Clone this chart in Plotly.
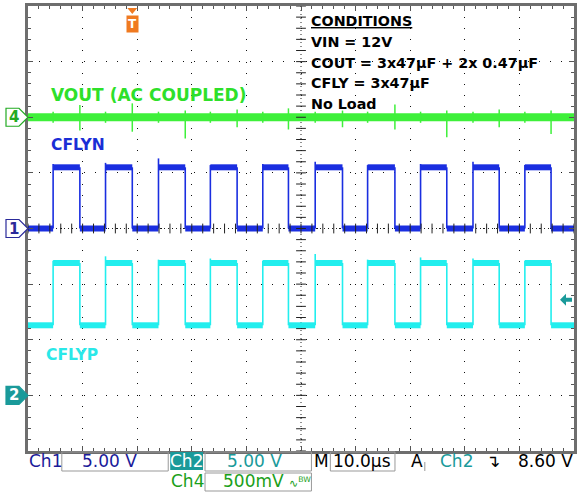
import numpy as np
import plotly.graph_objects as go

W, H = 579, 496
PL, PR, PT, PB = 28, 577, 6, 451  # plot box in screen pixels

# switching edges, µs from left edge of screen (10 µs/div)
rise_us = [4.6, 14.2, 23.9, 33.4, 43.0, 52.6, 62.2, 71.9, 81.5, 91.0]
fall_us = [9.5, 19.1, 28.8, 38.3, 47.7, 57.6, 67.2, 76.7, 86.3, 95.8]

# plateau levels, volts
cflyn_low, cflyn_high = 0.0, 5.5
cflyp_low, cflyp_high = 6.3, 11.9

# overshoot on rising edges, volts
cflyn_ovs = [0.3, 0.4, 0.8, 0.2, 0.3, 0.5, 0.2, 0.3, 0.5, 0.2]
cflyp_ovs = [0.2, 0.6, 0.3, 0.4, 0.2, 0.8, 0.3, 0.5, 0.4, 0.2]

# VOUT spikes at falling edges, mV
vout_up = [110, 125, 60, 70, 80, 60, 115, 60, 70, 60]
vout_dn = [-120, -130, -190, -90, -110, -90, -110, -180, -90, -150]
vout_band_mv = 36

# scope settings
ch1_pos, ch2_pos, ch4_pos = 0.0, -3.0, 2.0   # divisions
ch1_scale, ch2_scale, ch4_scale = 5.0, 5.0, 0.5  # V/div
trig_us = 19.1
trig_level = 8.60

conditions = ["<u>CONDITIONS</u>", "VIN = 12V", "COUT = 3x47µF + 2x 0.47µF",
              "CFLY = 3x47µF", "No Load"]

BLUE = "#1a2ee0"
CYAN = "#22eeee"
GREEN = "#3ef03a"
TEAL = "#1a9a9a"


def px(x):
    return (x - PL) / (PR - PL)


def py(y):
    return (PB - y) / (PB - PT)


def square(low, high, ovs, pos, scale):
    lo = pos + low / scale
    hi = pos + high / scale
    px_, py_ = [], []
    starts = [0.0] + fall_us
    ends = rise_us + [100.0]
    for a, b in zip(starts, ends):
        px_ += [a, b, None]
        py_ += [lo, lo, None]
    for a, b in zip(rise_us, fall_us):
        px_ += [a, b, None]
        py_ += [hi, hi, None]
    ex, ey = [], []
    for r, f, o in zip(rise_us, fall_us, ovs):
        ex += [r, r, None, f, f, None]
        ey += [lo, hi + o / scale, None, hi, lo, None]
    return px_, py_, ex, ey


fig = go.Figure()

# VOUT
fig.add_trace(go.Scatter(x=[0, 100], y=[ch4_pos, ch4_pos], mode="lines",
                         line=dict(color=GREEN, width=2 * vout_band_mv / 1000 / ch4_scale * 55.6),
                         hoverinfo="skip"))
sx, sy = [], []
for t, u, d in zip(fall_us, vout_up, vout_dn):
    sx += [t, t, None]
    sy += [ch4_pos + u / 1000 / ch4_scale, ch4_pos + d / 1000 / ch4_scale, None]
for t in rise_us:
    sx += [t, t, None]
    sy += [ch4_pos + 0.1, ch4_pos - 0.1, None]
fig.add_trace(go.Scatter(x=sx, y=sy, mode="lines", line=dict(color=GREEN, width=1.5),
                         hoverinfo="skip"))

for low, high, ovs, pos, scale, col in [
    (cflyp_low, cflyp_high, cflyp_ovs, ch2_pos, ch2_scale, CYAN),
    (cflyn_low, cflyn_high, cflyn_ovs, ch1_pos, ch1_scale, BLUE),
]:
    a, b, c, d = square(low, high, ovs, pos, scale)
    fig.add_trace(go.Scatter(x=a, y=b, mode="lines", line=dict(color=col, width=6),
                             hoverinfo="skip"))
    fig.add_trace(go.Scatter(x=c, y=d, mode="lines", line=dict(color=col, width=1.6),
                             hoverinfo="skip"))

# centre cross-hair ticks
fig.add_trace(go.Scatter(x=np.arange(0, 100.01, 2), y=np.zeros(51), mode="markers",
                         marker=dict(symbol="line-ns", size=7, line=dict(width=1, color="#222")),
                         hoverinfo="skip"))
fig.add_trace(go.Scatter(x=np.full(41, 50.0), y=np.arange(-4, 4.01, 0.2), mode="markers",
                         marker=dict(symbol="line-ew", size=7, line=dict(width=1, color="#222")),
                         hoverinfo="skip"))

axis_common = dict(showgrid=True, gridcolor="#111", gridwidth=1, griddash="1px,10.1px",
                   zeroline=False, showticklabels=False, ticks="inside", ticklen=5,
                   tickcolor="#555", showline=True, linecolor="#6e6e6e", linewidth=3,
                   mirror="ticks", fixedrange=True)
fig.update_xaxes(range=[0, 100], dtick=10, tick0=0,
                 minor=dict(dtick=2, ticks="inside", ticklen=3, tickcolor="#555", showgrid=False),
                 **axis_common)
fig.update_yaxes(range=[-4, 4], dtick=1, tick0=0,
                 minor=dict(dtick=0.2, ticks="inside", ticklen=3, tickcolor="#555", showgrid=False),
                 **axis_common)

shapes = [
    dict(type="line", xref="paper", yref="y", x0=0, x1=1, y0=0, y1=0,
         line=dict(color="#222", width=1, dash="1px,3px"), layer="below"),
    dict(type="line", xref="x", yref="paper", x0=50, x1=50, y0=0, y1=1,
         line=dict(color="#222", width=1, dash="1px,3px"), layer="below"),
]

# channel markers on the left
pent = "M -22,-9 L -9,-9 L 0,0 L -9,9 L -22,9 Z"
for lvl, col, fill in [(ch4_pos, "#22aa22", "white"), (ch1_pos, "#2a2a9a", "white"),
                       (ch2_pos, TEAL, TEAL)]:
    shapes.append(dict(type="path", xref="paper", yref="y", xsizemode="pixel", ysizemode="pixel",
                       xanchor=0, yanchor=lvl, path=pent, fillcolor=fill,
                       line=dict(color=col, width=1.2)))

# trigger position marker (small triangle at top)
shapes.append(dict(type="path", xref="x", yref="paper", xsizemode="pixel", ysizemode="pixel",
                   xanchor=trig_us, yanchor=1, path="M -5,-2 L 5,-2 L 0,-8 Z",
                   fillcolor="#f07a20", line=dict(width=0)))
# trigger level marker
trig_div = ch2_pos + trig_level / ch2_scale
shapes.append(dict(type="path", xref="x", yref="y", xsizemode="pixel", ysizemode="pixel",
                   xanchor=100, yanchor=trig_div,
                   path="M -14,0 L -8,6 L -8,2 L -2,2 L -2,-2 L -8,-2 L -8,-6 Z",
                   fillcolor=TEAL, line=dict(width=0)))

# readout boxes
for x0, x1, y0, y1 in [(62, 169, 452, 471), (206, 313, 452, 471), (332, 397, 452, 471),
                       (206, 313, 473, 491)]:
    shapes.append(dict(type="rect", xref="paper", yref="paper", x0=px(x0), x1=px(x1),
                       y0=py(y1), y1=py(y0), line=dict(color="#999", width=1)))
shapes.append(dict(type="rect", xref="paper", yref="paper", x0=px(171), x1=px(204),
                   y0=py(470), y1=py(452), fillcolor=TEAL, line=dict(width=0)))
shapes.append(dict(type="line", xref="paper", yref="paper", x0=px(427), x1=px(427),
                   y0=py(471), y1=py(462), line=dict(color="#999", width=1)))

ann = []
ann.append(dict(x=px(49), y=py(95), xref="paper", yref="paper", xanchor="left", yanchor="middle",
                text="<b>VOUT (AC COUPLED)</b>", showarrow=False,
                font=dict(family="DejaVu Sans", size=17, color="#2ee02a")))
ann.append(dict(x=px(49), y=py(145), xref="paper", yref="paper", xanchor="left", yanchor="middle",
                text="<b>CFLYN</b>", showarrow=False,
                font=dict(family="DejaVu Sans", size=15.5, color="#1a2ed6")))
ann.append(dict(x=px(44), y=py(355), xref="paper", yref="paper", xanchor="left", yanchor="middle",
                text="<b>CFLYP</b>", showarrow=False,
                font=dict(family="DejaVu Sans", size=15.5, color="#2ae8e8")))
for i, line in enumerate(conditions):
    ann.append(dict(x=px(311), y=py(21 + 20.8 * i), xref="paper", yref="paper", xanchor="left",
                    yanchor="middle", showarrow=False, text=f"<b>{line}</b>",
                    font=dict(family="DejaVu Sans", size=14.3, color="black")))

# channel marker digits
for lvl, txt, col in [(ch4_pos, "4", "#22aa22"), (ch1_pos, "1", "#2a2a9a"), (ch2_pos, "2", "white")]:
    ann.append(dict(x=0, y=lvl, xref="paper", yref="y", xshift=-14, text=f"<b>{txt}</b>",
                    xanchor="center", yanchor="middle",
                    showarrow=False, font=dict(family="DejaVu Sans", size=15, color=col)))
ann.append(dict(x=trig_us, y=py(24), xref="x", yref="paper", text="<b>T</b>",
                xanchor="center", yanchor="middle",
                bgcolor="#f07a20", borderpad=1, showarrow=False,
                font=dict(family="DejaVu Sans", size=12, color="white")))

st = dict(family="DejaVu Sans", size=17)
row1, row2 = py(461), py(481)
for x, txt, col, anchor in [
    (27, "Ch1", "#1a1a9a", "left"), (110, "5.00 V", "#1a1a9a", "center"),
    (187, "Ch2", "white", "center"), (256, "5.00 V", TEAL, "center"),
    (323, "M", "black", "center"), (364, "10.0µs", "black", "center"),
    (419, "A", "black", "center"), (459, "Ch2", TEAL, "center"),
    (496, "↴", "black", "center"), (578, "8.60 V", "black", "right"),
]:
    ann.append(dict(x=px(x), y=row1, xref="paper", yref="paper", xanchor=anchor, yanchor="middle",
                    text=txt, showarrow=False, font=dict(st, color=col)))
ann.append(dict(x=px(188), y=row2, xref="paper", yref="paper", xanchor="center", yanchor="middle",
                text="Ch4", showarrow=False, font=dict(st, color="#1aa01a")))
ann.append(dict(x=px(222), y=row2, xref="paper", yref="paper", xanchor="left", yanchor="middle",
                text="500mV <span style='font-size:11px'>∿<sup>BW</sup></span>", showarrow=False,
                font=dict(st, color="#1aa01a")))

fig.update_layout(width=W, height=H, margin=dict(l=PL, r=W - PR, t=PT, b=H - PB),
                  paper_bgcolor="white", plot_bgcolor="white", showlegend=False,
                  shapes=shapes, annotations=ann)
fig.write_html("out.html", config={"displayModeBar": False},
               post_script="document.body.style.margin='0';document.body.style.overflow='hidden';")
